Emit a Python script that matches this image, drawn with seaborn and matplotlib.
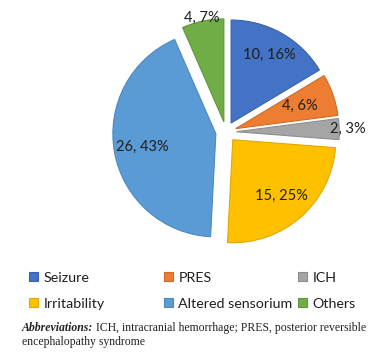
import matplotlib
matplotlib.use("Agg")
import numpy as np
import seaborn as sns
import matplotlib.pyplot as plt

# data
categorias = ['Seizure', 'PRES', 'ICH', 'Irritability', 'Altered sensorium', 'Others']
contagens = [10, 4, 2, 15, 26, 4]
percentuais = [16, 6, 3, 25, 43, 7]
cores = ['#4472C4', '#ED7D31', '#A5A5A5', '#FFC000', '#5B9BD5', '#70AD47']
bordas = ['#3A62A8', '#D06A26', '#8E8E8E', '#E0A800', '#4E88BE', '#5E9639']

sns.set_theme(style="white")
plt.rcParams['font.family'] = ['Lato', 'DejaVu Sans']

W, H = 386, 361
fig = plt.figure(figsize=(W / 100, H / 100), dpi=100)
ax = fig.add_axes([0, 0, 1, 1])

# centro e raio em pixels
cx, cy, R = 226, 132, 103
wedges, _ = ax.pie(contagens, colors=cores, startangle=90, counterclock=False,
                   explode=[0.1] * 6, radius=1,
                   wedgeprops=dict(linewidth=0.8))
for w, b in zip(wedges, bordas):
    w.set_edgecolor(b)

ax.set_xlim(-cx / R, (W - cx) / R)
ax.set_ylim(-(H - cy) / R, cy / R)
ax.set_aspect('equal')
ax.axis('off')

# rótulos "n, %"
dist = [0.86, 0.76, 1.18, 0.82, 0.83, 1.13]
for w, n, p, d in zip(wedges, contagens, percentuais, dist):
    ang = np.deg2rad((w.theta1 + w.theta2) / 2)
    ax.text(d * np.cos(ang), d * np.sin(ang), f'{n}, {p}%',
            ha='center', va='center', fontsize=10.5, color='#1f1f1f')

# legenda em 3 colunas
xs = [29, 164, 298]
for c in range(3):
    leg = fig.legend(handles=wedges[c::3], labels=categorias[c::3],
                     loc='upper left', bbox_to_anchor=(xs[c] / W, 1 - 272 / H),
                     frameon=False, fontsize=10.3, handlelength=0.6, handleheight=0.6,
                     handletextpad=0.4, labelspacing=0.95, borderpad=0, borderaxespad=0)
    for t in leg.get_texts():
        t.set_color('#1f1f1f')

# nota de rodapé
fig.canvas.draw()
r = fig.canvas.get_renderer()
t1 = fig.text(22 / W, 1 - 328 / H, 'Abbreviations:', family='Liberation Serif',
              style='italic', weight='bold', fontsize=8.5, va='center', color='#222222')
bb = t1.get_window_extent(renderer=r)
fig.text((bb.x1 + 3) / W, 1 - 328 / H, 'ICH, intracranial hemorrhage; PRES, posterior reversible',
         family='Liberation Serif', fontsize=8.5, va='center', color='#222222')
fig.text(22 / W, 1 - 342 / H, 'encephalopathy syndrome', family='Liberation Serif',
         fontsize=8.5, va='center', color='#222222')

fig.savefig('out.png', dpi=100)
